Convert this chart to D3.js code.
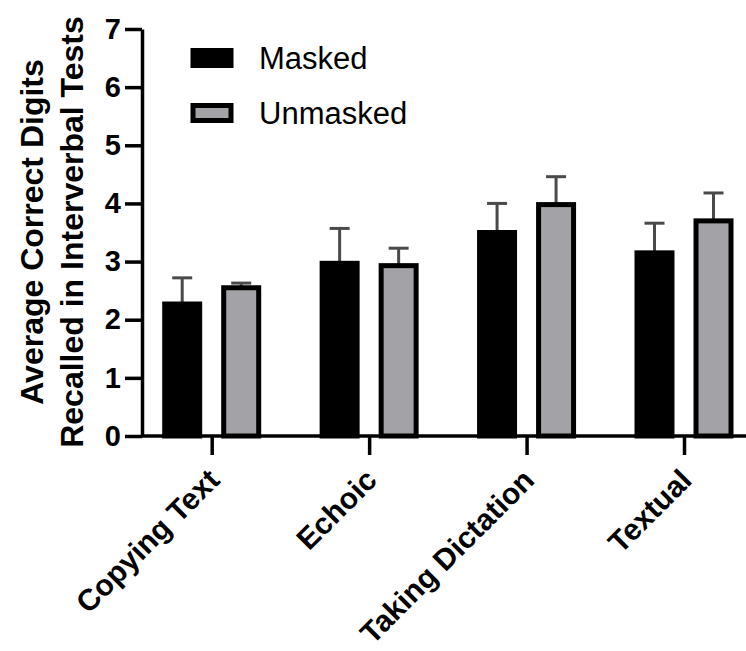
<!DOCTYPE html>
<html>
<head>
<meta charset="utf-8">
<script src="https://cdn.jsdelivr.net/npm/d3@7"></script>
<style>
  body { margin: 0; background: #fff; }
  svg { display: block; font-family: "Liberation Sans", Arial, sans-serif; }
</style>
</head>
<body>
<div id="chart"></div>
<script>
// values
const categories = ['Copying Text', 'Echoic', 'Taking Dictation', 'Textual'];
const series = ['Masked', 'Unmasked'];
const maskedMeans = [2.27, 2.97, 3.50, 3.15];
const maskedErrors = [0.45, 0.60, 0.50, 0.51];
const unmaskedMeans = [2.55, 2.93, 3.98, 3.70];
const unmaskedErrors = [0.08, 0.30, 0.48, 0.48];
const yTicks = [0, 1, 2, 3, 4, 5, 6, 7];

const width = 746, height = 651;
const fills = {Masked: '#000000', Unmasked: '#a2a2a7'};

let rows = [];
categories.forEach((c, i) => {
  rows.push({cat: c, s: 'Masked', v: maskedMeans[i], e: maskedErrors[i]});
  rows.push({cat: c, s: 'Unmasked', v: unmaskedMeans[i], e: unmaskedErrors[i]});
});

let svg = d3.select('#chart').append('svg')
  .attr('width', width)
  .attr('height', height);

let y = d3.scaleLinear()
  .domain([0, 7])
  .range([436, 29]);

let x = d3.scalePoint()
  .domain(categories)
  .range([211.7, 684]);

let x1 = d3.scaleBand()
  .domain(series)
  .range([-47, 47])
  .paddingInner(0.407);

// error bars (upper half only)
let err = svg.append('g')
  .attr('stroke', '#4a4a4a')
  .attr('stroke-width', 3);

err.selectAll('.err')
  .data(rows)
  .enter().append('line')
  .attr('x1', d => x(d.cat) + x1(d.s) + x1.bandwidth() / 2)
  .attr('x2', d => x(d.cat) + x1(d.s) + x1.bandwidth() / 2)
  .attr('y1', d => y(d.v))
  .attr('y2', d => y(d.v + d.e));

err.selectAll('.cap')
  .data(rows)
  .enter().append('line')
  .attr('x1', d => x(d.cat) + x1(d.s) + x1.bandwidth() / 2 - 10)
  .attr('x2', d => x(d.cat) + x1(d.s) + x1.bandwidth() / 2 + 10)
  .attr('y1', d => y(d.v + d.e))
  .attr('y2', d => y(d.v + d.e));

// bars
svg.append('g').selectAll('rect')
  .data(rows)
  .enter().append('rect')
  .attr('x', d => x(d.cat) + x1(d.s))
  .attr('width', x1.bandwidth())
  .attr('y', d => y(d.v))
  .attr('height', d => y(0) - y(d.v))
  .attr('fill', d => fills[d.s])
  .attr('stroke', '#000')
  .attr('stroke-width', 5);

// y axis
let yAxis = svg.append('g')
  .attr('transform', 'translate(142,0)')
  .call(d3.axisLeft(y)
    .tickValues(yTicks)
    .tickFormat(d3.format('d'))
    .tickSize(17)
    .tickSizeOuter(0)
    .tickPadding(4));

yAxis.select('.domain').attr('stroke-width', 3.5);
yAxis.selectAll('.tick line').attr('stroke-width', 3.5);
yAxis.selectAll('.tick text')
  .attr('font-size', 29)
  .attr('font-weight', 'bold')
  .attr('fill', '#000')
  .attr('font-family', '"Liberation Sans", Arial, sans-serif');

// x axis
let xAxis = svg.append('g')
  .attr('transform', 'translate(0,436)')
  .call(d3.axisBottom(x).tickSize(19).tickSizeOuter(0));

xAxis.select('.domain').remove();
xAxis.append('line')
  .attr('x1', 142)
  .attr('x2', 746)
  .attr('stroke', '#000')
  .attr('stroke-width', 3.5);
xAxis.selectAll('.tick line').attr('stroke-width', 3.5);
xAxis.selectAll('.tick text')
  .attr('font-size', 30)
  .attr('font-weight', 'bold')
  .attr('fill', '#000')
  .attr('font-family', '"Liberation Sans", Arial, sans-serif')
  .attr('text-anchor', 'end')
  .attr('dy', null)
  .attr('y', 0)
  .attr('transform', 'translate(9,46) rotate(-45)');

// y title
let title = svg.append('text')
  .attr('transform', 'translate(43,232) rotate(-90)')
  .attr('text-anchor', 'middle')
  .attr('font-size', 32)
  .attr('font-weight', 'bold');
title.append('tspan').attr('x', 0).attr('y', 0).text('Average Correct Digits');
title.append('tspan').attr('x', 0).attr('y', 40).text('Recalled in Interverbal Tests');

// legend
let legend = svg.append('g').selectAll('g')
  .data(series)
  .enter().append('g')
  .attr('transform', (d, i) => 'translate(193,' + (50.5 + i * 55) + ')');

legend.append('rect')
  .attr('width', 38)
  .attr('height', 15)
  .attr('fill', d => fills[d])
  .attr('stroke', '#000')
  .attr('stroke-width', 5);

legend.append('text')
  .attr('x', 66)
  .attr('y', 7.5)
  .attr('dy', '0.35em')
  .attr('font-size', 31)
  .text(d => d);
</script>
</body>
</html>
